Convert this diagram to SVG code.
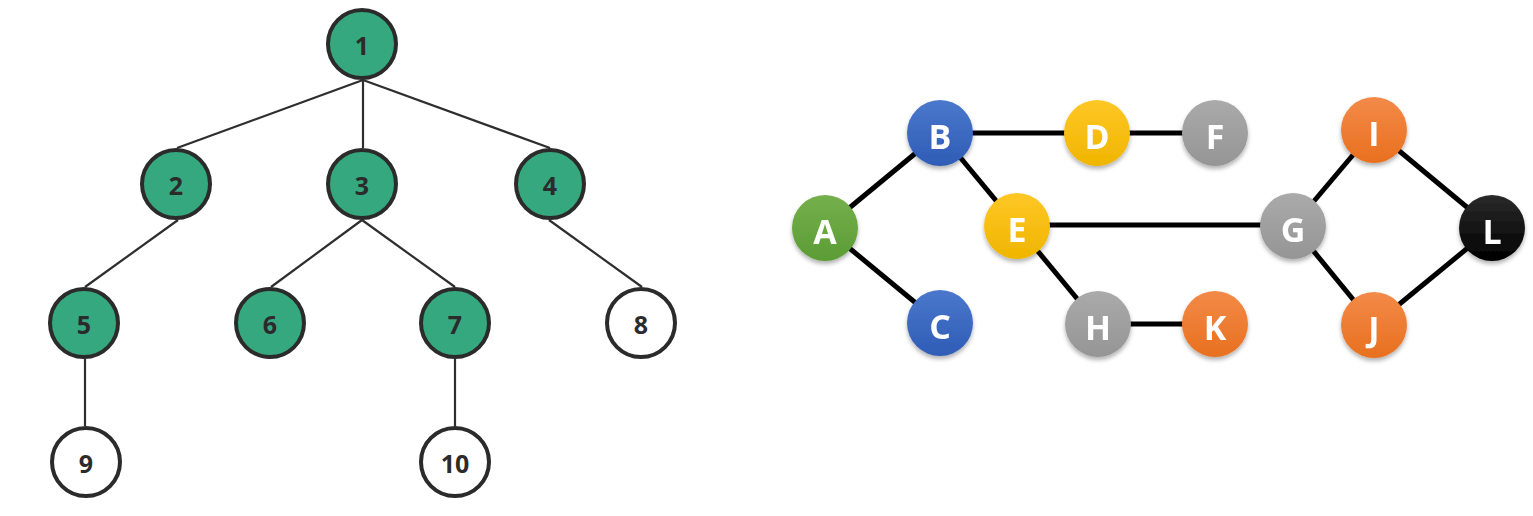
<svg xmlns="http://www.w3.org/2000/svg" width="1533" height="516" viewBox="0 0 1533 516">
<style>
.t circle{stroke:#2b2b2b;stroke-width:4}
.g{fill:#36a880}
.w{fill:#ffffff}
.tl{font-family:"Open Sans","Liberation Sans",sans-serif;font-weight:700;font-size:25px;fill:#2b2b2b;text-anchor:middle;dominant-baseline:central}
.te line{stroke:#2e2e2e;stroke-width:2.2}
.ge line{stroke:#000;stroke-width:5}
.gl{font-family:"Open Sans","Liberation Sans",sans-serif;font-weight:700;font-size:34px;fill:#fff;text-anchor:middle;dominant-baseline:central}
</style>
<defs>
<linearGradient id="blue" x1="0" y1="0" x2="0" y2="1"><stop offset="0" stop-color="#4a78cc"/><stop offset="1" stop-color="#2f5cb5"/></linearGradient>
<linearGradient id="green" x1="0" y1="0" x2="0" y2="1"><stop offset="0" stop-color="#74b04b"/><stop offset="1" stop-color="#5c9c35"/></linearGradient>
<linearGradient id="yellow" x1="0" y1="0" x2="0" y2="1"><stop offset="0" stop-color="#ffc726"/><stop offset="1" stop-color="#efb500"/></linearGradient>
<linearGradient id="gray" x1="0" y1="0" x2="0" y2="1"><stop offset="0" stop-color="#aaaaaa"/><stop offset="1" stop-color="#959595"/></linearGradient>
<linearGradient id="orange" x1="0" y1="0" x2="0" y2="1"><stop offset="0" stop-color="#f38a48"/><stop offset="1" stop-color="#e8701f"/></linearGradient>
<linearGradient id="black" x1="0" y1="0" x2="0" y2="1"><stop offset="0" stop-color="#2a2a2a"/><stop offset="1" stop-color="#000000"/></linearGradient>
<filter id="sh" x="-30%" y="-30%" width="160%" height="170%"><feDropShadow dx="0" dy="3" stdDeviation="2" flood-color="#000" flood-opacity="0.3"/></filter>
</defs>

<g id="tree-edges" class="te">
<line x1="363" y1="80" x2="177" y2="148"/>
<line x1="363" y1="80" x2="363" y2="148"/>
<line x1="363" y1="80" x2="550" y2="148"/>
<line x1="178" y1="220" x2="85" y2="287"/>
<line x1="362" y1="220" x2="271" y2="287"/>
<line x1="362" y1="220" x2="455" y2="287"/>
<line x1="549" y1="220" x2="642" y2="287"/>
<line x1="85" y1="359" x2="85" y2="426"/>
<line x1="455" y1="359" x2="455" y2="426"/>
</g>
<g id="n1" class="t"><circle cx="362" cy="44" r="34" class="g"/><text x="362" y="45" class="tl">1</text></g>
<g id="n2" class="t"><circle cx="176" cy="184" r="34" class="g"/><text x="176" y="185" class="tl">2</text></g>
<g id="n3" class="t"><circle cx="362" cy="184" r="34" class="g"/><text x="362" y="185" class="tl">3</text></g>
<g id="n4" class="t"><circle cx="550" cy="184" r="34" class="g"/><text x="550" y="185" class="tl">4</text></g>
<g id="n5" class="t"><circle cx="84" cy="323" r="34" class="g"/><text x="84" y="324" class="tl">5</text></g>
<g id="n6" class="t"><circle cx="270" cy="323" r="34" class="g"/><text x="270" y="324" class="tl">6</text></g>
<g id="n7" class="t"><circle cx="455" cy="323" r="34" class="g"/><text x="455" y="324" class="tl">7</text></g>
<g id="n8" class="t"><circle cx="641" cy="323" r="34" class="w"/><text x="641" y="324" class="tl">8</text></g>
<g id="n9" class="t"><circle cx="86" cy="462" r="34" class="w"/><text x="86" y="463" class="tl">9</text></g>
<g id="n10" class="t"><circle cx="455" cy="462" r="34" class="w"/><text x="455" y="463" class="tl">10</text></g>

<g id="graph-edges" class="ge">
<line x1="825" y1="228" x2="940" y2="133"/>
<line x1="825" y1="228" x2="940" y2="323"/>
<line x1="940" y1="133" x2="1097" y2="133"/>
<line x1="1097" y1="133" x2="1215" y2="133"/>
<line x1="940" y1="133" x2="1017" y2="226"/>
<line x1="1017" y1="225" x2="1293" y2="225"/>
<line x1="1017" y1="226" x2="1098" y2="324"/>
<line x1="1098" y1="324" x2="1215" y2="324"/>
<line x1="1293" y1="226" x2="1374" y2="130"/>
<line x1="1293" y1="226" x2="1374" y2="325"/>
<line x1="1374" y1="130" x2="1492" y2="228"/>
<line x1="1374" y1="325" x2="1492" y2="228"/>
</g>
<g id="A" filter="url(#sh)"><circle cx="825" cy="228" r="33" fill="url(#green)"/><text x="825" y="231" class="gl">A</text></g>
<g id="B" filter="url(#sh)"><circle cx="940" cy="133" r="33" fill="url(#blue)"/><text x="940" y="136" class="gl">B</text></g>
<g id="C" filter="url(#sh)"><circle cx="940" cy="323" r="33" fill="url(#blue)"/><text x="940" y="326" class="gl">C</text></g>
<g id="D" filter="url(#sh)"><circle cx="1097" cy="133" r="33" fill="url(#yellow)"/><text x="1097" y="136" class="gl">D</text></g>
<g id="E" filter="url(#sh)"><circle cx="1017" cy="226" r="33" fill="url(#yellow)"/><text x="1017" y="229" class="gl">E</text></g>
<g id="F" filter="url(#sh)"><circle cx="1215" cy="133" r="33" fill="url(#gray)"/><text x="1215" y="136" class="gl">F</text></g>
<g id="G" filter="url(#sh)"><circle cx="1293" cy="226" r="33" fill="url(#gray)"/><text x="1293" y="229" class="gl">G</text></g>
<g id="H" filter="url(#sh)"><circle cx="1098" cy="324" r="33" fill="url(#gray)"/><text x="1098" y="327" class="gl">H</text></g>
<g id="K" filter="url(#sh)"><circle cx="1215" cy="324" r="33" fill="url(#orange)"/><text x="1215" y="327" class="gl">K</text></g>
<g id="I" filter="url(#sh)"><circle cx="1374" cy="130" r="33" fill="url(#orange)"/><text x="1374" y="133" class="gl">I</text></g>
<g id="J" filter="url(#sh)"><circle cx="1374" cy="325" r="33" fill="url(#orange)"/><text x="1374" y="328" class="gl">J</text></g>
<g id="L" filter="url(#sh)"><circle cx="1492" cy="228" r="33" fill="url(#black)"/><text x="1492" y="231" class="gl">L</text></g>
</svg>
